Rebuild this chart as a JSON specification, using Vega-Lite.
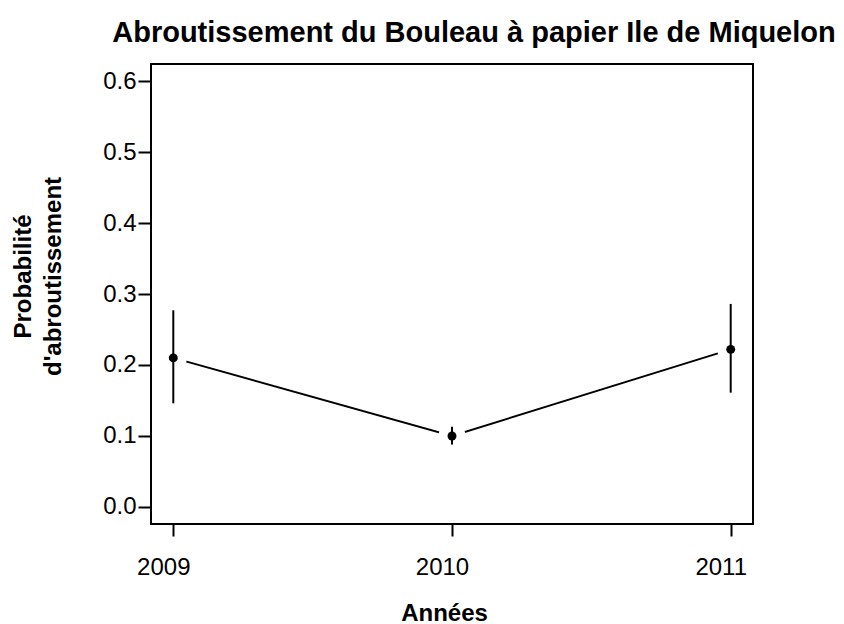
{
  "$schema": "https://vega.github.io/schema/vega-lite/v6.json",
  "width": 602,
  "height": 460,
  "autosize": {"type": "none"},
  "padding": {"left": 151, "top": 64, "right": 91, "bottom": 100},
  "background": "white",
  "config": {
    "view": {"stroke": "black", "strokeWidth": 2},
    "font": "Liberation Sans"
  },
  "title": {
    "text": "Abroutissement du Bouleau à papier Ile de Miquelon",
    "font": "Liberation Sans",
    "fontSize": 29,
    "fontWeight": "bold",
    "color": "black",
    "anchor": "middle",
    "frame": "group",
    "dx": 22,
    "baseline": "alphabetic",
    "offset": -7
  },
  "data": {
    "values": [
      {"annee": 2009, "prob": 0.21, "lo": 0.146, "hi": 0.277},
      {"annee": 2010, "prob": 0.1, "lo": 0.088, "hi": 0.113},
      {"annee": 2011, "prob": 0.222, "lo": 0.161, "hi": 0.286}
    ]
  },
  "encoding": {
    "x": {
      "field": "annee",
      "type": "quantitative",
      "scale": {"domain": [2008.92, 2011.08], "nice": false, "zero": false},
      "axis": {
        "title": "Années",
        "titleFont": "Liberation Sans",
        "titleFontSize": 24,
        "titleFontWeight": "bold",
        "titleColor": "black",
        "titleBaseline": "alphabetic",
        "titleX": 293,
        "titleY": 96,
        "values": [2009, 2009.5, 2010, 2010.5, 2011],
        "format": "d",
        "labelExpr": "datum.value % 1 == 0 ? datum.label : ''",
        "labelFont": "Liberation Sans",
        "labelFontSize": 24,
        "labelColor": "black",
        "labelBaseline": "alphabetic",
        "labelPadding": 38,
        "labelOffset": -10,
        "labelOverlap": false,
        "labelFlush": false,
        "tickSize": 12,
        "tickWidth": 2,
        "tickColor": "black",
        "domain": false,
        "grid": false
      }
    },
    "y": {
      "field": "prob",
      "type": "quantitative",
      "scale": {"domain": [-0.024, 0.624], "nice": false, "zero": false},
      "axis": {
        "title": ["Probabilité", "d'abroutissement"],
        "titleFont": "Liberation Sans",
        "titleFontSize": 24,
        "titleFontWeight": "bold",
        "titleColor": "black",
        "titleAngle": -90,
        "titleAlign": "center",
        "titleBaseline": "alphabetic",
        "titleLineHeight": 30,
        "titleX": -121,
        "titleY": 212,
        "values": [0, 0.1, 0.2, 0.3, 0.4, 0.5, 0.6],
        "format": ".1f",
        "labelFont": "Liberation Sans",
        "labelFontSize": 24,
        "labelColor": "black",
        "labelPadding": 2,
        "labelBaseline": "middle",
        "tickSize": 13,
        "tickWidth": 2,
        "tickColor": "black",
        "domain": false,
        "grid": false
      }
    }
  },
  "layer": [
    {
      "mark": {"type": "line", "color": "black", "strokeWidth": 2}
    },
    {
      "mark": {"type": "point", "filled": true, "color": "white", "opacity": 1, "size": 730}
    },
    {
      "mark": {"type": "rule", "color": "black", "strokeWidth": 2},
      "encoding": {"y": {"field": "lo", "type": "quantitative"}, "y2": {"field": "hi"}}
    },
    {
      "mark": {"type": "point", "filled": true, "color": "black", "opacity": 1, "size": 80}
    }
  ]
}
